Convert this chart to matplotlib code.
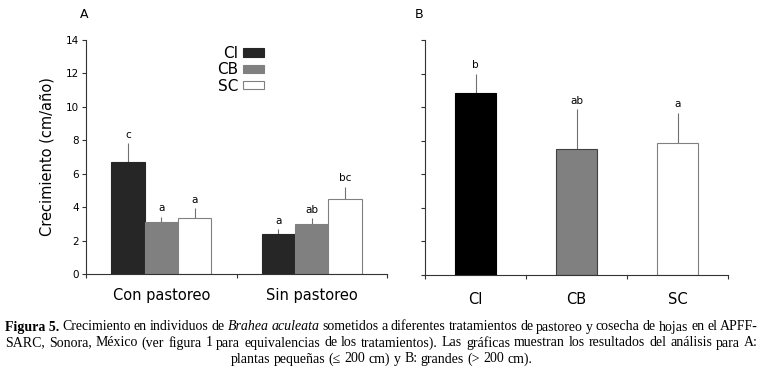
import numpy as np
import matplotlib
matplotlib.use("Agg")
import matplotlib.pyplot as plt

# --- Data ---
grupos = ["Con pastoreo", "Sin pastoreo"]
tratamientos = ["CI", "CB", "SC"]
# panel A: plantas pequeñas (filas = tratamiento, columnas = grupo)
media_a = {"CI": [6.72, 2.38], "CB": [3.11, 2.98], "SC": [3.33, 4.47]}
error_a = {"CI": [1.11, 0.30], "CB": [0.32, 0.35], "SC": [0.60, 0.76]}
letras_a = {"CI": ["c", "a"], "CB": ["a", "ab"], "SC": ["a", "bc"]}
# panel B: plantas grandes
media_b = [10.83, 7.50, 7.86]
error_b = [1.17, 2.38, 1.82]
letras_b = ["b", "ab", "a"]

caption = [
    [("Figura 5.", "bold"), ("Crecimiento", ""), ("en", ""), ("individuos", ""), ("de", ""),
     ("Brahea", "italic"), ("aculeata", "italic"), ("sometidos", ""), ("a", ""), ("diferentes", ""),
     ("tratamientos", ""), ("de", ""), ("pastoreo", ""), ("y", ""), ("cosecha", ""), ("de", ""),
     ("hojas", ""), ("en", ""), ("el", ""), ("APFF-", "")],
    "SARC, Sonora, México (ver figura 1 para equivalencias de los tratamientos). Las gráficas muestran los resultados del análisis para A:",
    "plantas pequeñas (≤ 200 cm) y B: grandes (> 200 cm).",
]

plt.rcParams["font.family"] = "DejaVu Sans"
colores_a = {"CI": "#262626", "CB": "#808080", "SC": "#ffffff"}
colores_b = ["#000000", "#808080", "#ffffff"]
err_col = "#707070"

fig = plt.figure(figsize=(7.63, 3.72), dpi=100)
W, H = 763, 372

def axes_px(x0, x1, y0, y1):
    return fig.add_axes([x0 / W, 1 - y1 / H, (x1 - x0) / W, (y1 - y0) / H])

def style(ax):
    for s in ["top", "right"]:
        ax.spines[s].set_visible(False)
    for s in ["left", "bottom"]:
        ax.spines[s].set_color("#333333")
        ax.spines[s].set_linewidth(0.8)
    ax.set_ylim(0, 14)
    ax.set_yticks(range(0, 15, 2))
    ax.tick_params(axis="y", length=3, width=0.8, color="#333333", labelsize=7.5, pad=2)
    ax.tick_params(axis="x", length=3, width=0.8, color="#333333")

# --- Panel A ---
ax = axes_px(86, 387, 40, 274)
style(ax)
ax.set_xlim(0, 2)
bw = 0.222
centers = np.arange(len(grupos)) + 0.5
for i, t in enumerate(tratamientos):
    xs = centers + (i - 1) * bw
    ax.bar(xs, media_a[t], bw, color=colores_a[t],
           edgecolor="#808080" if t == "SC" else colores_a[t], linewidth=0.8, label=t, zorder=2)
    ax.errorbar(xs, media_a[t], yerr=[np.zeros(2), error_a[t]], fmt="none",
                ecolor=err_col, elinewidth=0.8, capsize=0, zorder=1)
    for x, m, e, l in zip(xs, media_a[t], error_a[t], letras_a[t]):
        ax.text(x, m + e + 0.2, l, ha="center", va="bottom", fontsize=7.5)
ax.set_xticks([0, 1, 2])
ax.set_xticklabels([])
ax.set_xticks(centers, minor=True)
ax.set_xticklabels(grupos, minor=True, fontsize=10.5)
ax.tick_params(axis="x", which="minor", length=0, pad=10)
ax.set_ylabel("Crecimiento (cm/año)", fontsize=10.5, labelpad=8)
ax.legend(markerfirst=False, frameon=False, fontsize=11, loc="upper left",
          bbox_to_anchor=(0.415, 1.0), handlelength=1.4, handleheight=0.5,
          labelspacing=0.08, handletextpad=0.3, borderaxespad=0)
fig.text(80 / W, 1 - 15 / H, "A", fontsize=9, ha="left", va="center")

# --- Panel B ---
ax2 = axes_px(425, 728, 40, 275)
style(ax2)
ax2.set_xlim(0, 3)
xb = np.arange(len(tratamientos)) + 0.5
ax2.bar(xb, media_b, 0.4, color=colores_b, edgecolor=["#000000", "#404040", "#808080"],
        linewidth=0.8, zorder=2)
ax2.errorbar(xb, media_b, yerr=[np.zeros(3), error_b], fmt="none",
             ecolor=err_col, elinewidth=0.8, capsize=0, zorder=1)
for x, m, e, l in zip(xb, media_b, error_b, letras_b):
    ax2.text(x, m + e + 0.2, l, ha="center", va="bottom", fontsize=7.5)
ax2.set_yticklabels([])
ax2.set_xticks([0, 1, 2, 3])
ax2.set_xticklabels([])
ax2.set_xticks(xb, minor=True)
ax2.set_xticklabels(tratamientos, minor=True, fontsize=10.5)
ax2.tick_params(axis="x", which="minor", length=0, pad=12)
fig.text(415 / W, 1 - 15 / H, "B", fontsize=9, ha="left", va="center")

# --- Caption (justified) ---
renderer = fig.canvas.get_renderer()
cap_fs = 10
cap_fam = "Liberation Serif"

def tokens(line):
    if isinstance(line, str):
        return [(w, "") for w in line.split(" ")]
    return line

def text_w(s):
    t = fig.text(0, 0, s, fontsize=cap_fs, family=cap_fam)
    w = t.get_window_extent(renderer).width
    t.remove()
    return w

def draw_line(toks, y, x0, x1, justify):
    objs = []
    for w, st in toks:
        t = fig.text(0, 0, w, fontsize=cap_fs, family=cap_fam, va="center", ha="left",
                     fontweight="bold" if st == "bold" else "normal",
                     fontstyle="italic" if st == "italic" else "normal",
                     transform=None)
        objs.append(t)
    widths = [o.get_window_extent(renderer).width for o in objs]
    total = sum(widths)
    if justify:
        gap = (x1 - x0 - total) / (len(objs) - 1)
        start = x0
    else:
        gap = text_w("a b") - text_w("ab")
        start = (x0 + x1) / 2 - (total + gap * (len(objs) - 1)) / 2
    x = start
    for o, w in zip(objs, widths):
        o.set_position((x, H - y))
        x += w + gap

draw_line(tokens(caption[0]), 327, 5, 758, True)
draw_line(tokens(caption[1]), 343, 5, 758, True)
draw_line(tokens(caption[2]), 359, 5, 758, False)

fig.savefig("out.png", dpi=100)
